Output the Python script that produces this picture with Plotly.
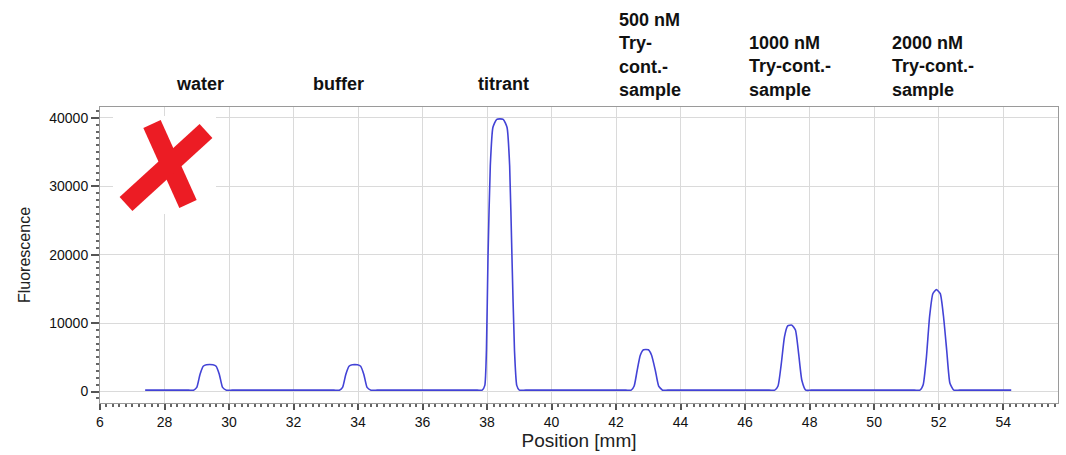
import plotly.graph_objects as go

# --- data ---
position_mm = [
    27.4, 28.75, 28.9, 29.0, 29.1, 29.2, 29.3, 29.5, 29.6, 29.7, 29.8, 29.92, 30.1,
    33.25, 33.42, 33.52, 33.62, 33.72, 33.82, 33.98, 34.08, 34.18, 34.28, 34.4, 34.6,
    37.7, 37.85, 37.93, 37.98, 38.03, 38.1, 38.18, 38.3, 38.5, 38.62, 38.7, 38.77, 38.85, 38.92, 39.0, 39.2,
    42.3, 42.47, 42.56, 42.65, 42.75, 42.85, 43.0, 43.1, 43.22, 43.32, 43.44, 43.6,
    46.75, 46.92, 47.02, 47.12, 47.22, 47.32, 47.45, 47.56, 47.66, 47.76, 47.88, 48.05,
    51.25, 51.42, 51.52, 51.62, 51.72, 51.82, 51.93, 52.05, 52.15, 52.25, 52.35, 52.47, 52.65,
    54.25,
]
fluorescence = [
    200, 200, 200, 600, 2500, 3700, 3900, 3900, 3700, 2500, 600, 200, 200,
    200, 200, 600, 2500, 3700, 3900, 3900, 3700, 2500, 600, 200, 200,
    200, 200, 900, 6000, 20000, 33000, 38600, 39800, 39800, 38600, 33000, 20000, 6000, 900, 200, 200,
    200, 200, 800, 3000, 5300, 6100, 6100, 5300, 3000, 800, 200, 200,
    200, 200, 800, 4000, 8000, 9600, 9700, 9000, 5500, 1600, 200, 200,
    200, 200, 1000, 5000, 11000, 14300, 14900, 14300, 11000, 6000, 1200, 200, 200,
    200,
]

x_tick_vals = [26, 28, 30, 32, 34, 36, 38, 40, 42, 44, 46, 48, 50, 52, 54]
x_tick_text = ["6", "28", "30", "32", "34", "36", "38", "40", "42", "44", "46", "48", "50", "52", "54"]
y_tick_vals = [0, 10000, 20000, 30000, 40000]
y_tick_text = ["0", "10000", "20000", "30000", "40000"]

peak_labels = ["water", "buffer", "titrant"]
sample_labels = [
    "500 nM<br>Try-<br>cont.-<br>sample",
    "1000 nM<br>Try-cont.-<br>sample",
    "2000 nM<br>Try-cont.-<br>sample",
]

# --- layout geometry (pixels) ---
W, H = 1066, 455
L, R, T, B = 100, 8, 107, 52
PW, PH = W - L - R, H - T - B


def px(xp):
    return (xp - L) / PW


def py(yp):
    return (H - B - yp) / PH


fig = go.Figure()
fig.add_trace(go.Scatter(
    x=position_mm, y=fluorescence, mode="lines",
    line=dict(color="#4343d6", width=1.6, shape="spline", smoothing=0.5),
    hoverinfo="skip", showlegend=False,
))

font_family = "Liberation Sans, Arial, sans-serif"

fig.update_layout(
    width=W, height=H,
    margin=dict(l=L, r=R, t=T, b=B),
    paper_bgcolor="white", plot_bgcolor="white",
    font=dict(family=font_family, color="#222"),
    xaxis=dict(
        range=[26, 55.7], tickmode="array", tickvals=x_tick_vals, ticktext=x_tick_text,
        showgrid=True, gridcolor="#dadada", gridwidth=1, zeroline=False,
        showline=True, linecolor="#9a9a9a", linewidth=1, mirror=True,
        ticks="outside", ticklen=6, tickcolor="#555", tickwidth=1.5,
        minor=dict(dtick=0.2, ticks="outside", ticklen=3, tickcolor="#666", showgrid=False),
        tickfont=dict(size=14, color="#111"),
        title=dict(text="Position [mm]", font=dict(size=19, color="#222"), standoff=4),
    ),
    yaxis=dict(
        range=[-1680, 41600], tickmode="array", tickvals=y_tick_vals, ticktext=y_tick_text,
        showgrid=True, gridcolor="#dadada", gridwidth=1, zeroline=False,
        showline=True, linecolor="#9a9a9a", linewidth=1, mirror=True,
        ticks="outside", ticklen=8, tickcolor="#555", tickwidth=1.5,
        minor=dict(dtick=1000, ticks="outside", ticklen=3, tickcolor="#666", showgrid=False),
        tickfont=dict(size=14, color="#111"),
        title=dict(text="Fluorescence", font=dict(size=16, color="#222"), standoff=14),
    ),
)

# top labels
label_x = [200, 338, 503]
for t, xp in zip(peak_labels, label_x):
    fig.add_annotation(text=t, xref="paper", yref="paper", x=px(xp), y=py(84),
                       xanchor="center", yanchor="middle", showarrow=False,
                       font=dict(size=18, family=font_family, color="#111", weight="bold"))

sample_x = [617, 747, 890]
sample_top = [8, 31, 31]
for t, xp, yt in zip(sample_labels, sample_x, sample_top):
    fig.add_annotation(text=t, xref="paper", yref="paper", x=px(xp), y=py(yt),
                       xanchor="left", yanchor="top", align="left", showarrow=False,
                       font=dict(size=18, family=font_family, color="#111", weight="bold"))

# red cross mark (decoration)
fig.add_shape(type="rect", xref="paper", yref="paper",
              x0=px(113), x1=px(216), y0=py(214), y1=py(116),
              fillcolor="white", line=dict(width=0), layer="above")
fig.add_shape(type="line", xref="paper", yref="paper",
              x0=px(152), y0=py(124), x1=px(188), y1=py(204),
              line=dict(color="#ec1c24", width=19), layer="above")
fig.add_shape(type="line", xref="paper", yref="paper",
              x0=px(206), y0=py(131), x1=px(126), y1=py(204),
              line=dict(color="#ec1c24", width=19), layer="above")

fig.write_html("out.html")
